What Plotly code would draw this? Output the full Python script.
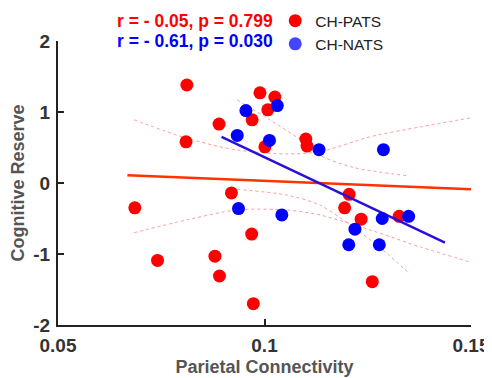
import plotly.graph_objects as go

# ---- data ----
pats_x = [0.0812, 0.0989, 0.1025, 0.1008, 0.0970, 0.0890, 0.0810, 0.1001, 0.1100, 0.1103,
          0.0686, 0.0920, 0.0741, 0.0880, 0.0891, 0.0969, 0.0973, 0.1205, 0.1194, 0.1234,
          0.1326, 0.1261]
pats_y = [1.38, 1.27, 1.21, 1.03, 0.89, 0.83, 0.58, 0.51, 0.62, 0.52,
          -0.35, -0.14, -1.09, -1.03, -1.31, -0.72, -1.70, -0.16, -0.35, -0.51,
          -0.47, -1.39]
nats_x = [0.0955, 0.1031, 0.0934, 0.1012, 0.1132, 0.1288, 0.0937, 0.1042, 0.1285, 0.1349,
          0.1219, 0.1204, 0.1278]
nats_y = [1.02, 1.09, 0.67, 0.60, 0.47, 0.47, -0.36, -0.45, -0.50, -0.47,
          -0.65, -0.87, -0.87]

# regression lines (end points)
pats_fit_x = [0.0668, 0.1502]
pats_fit_y = [0.11, -0.09]
nats_fit_x = [0.0896, 0.1437]
nats_fit_y = [0.65, -0.84]

# 95% confidence bands
pats_ci_x = [0.0684, 0.0812, 0.0933, 0.1054, 0.1134, 0.1255, 0.1377, 0.1502]
pats_ci_hi = [0.89, 0.63, 0.465, 0.41, 0.44, 0.65, 0.79, 0.92]
pats_ci_lo = [-0.70, -0.52, -0.38, -0.38, -0.45, -0.66, -0.90, -1.12]
nats_ci_x = [0.0934, 0.1013, 0.1094, 0.1134, 0.1215, 0.1348]
nats_ci_hi = [1.17, 0.89, 0.58, 0.39, 0.22, 0.10]
nats_ci_lo_x = [0.0934, 0.1054, 0.1134, 0.1215, 0.1296, 0.1348]
nats_ci_lo = [-0.09, -0.17, -0.31, -0.62, -0.99, -1.26]

stats_pats = "r = - 0.05, p = 0.799"
stats_nats = "r = - 0.61, p = 0.030"
group_names = ["CH-PATS", "CH-NATS"]
x_ticks = [0.05, 0.1, 0.15]
x_tick_text = ["0.05", "0.1", "0.15"]
y_ticks = [-2, -1, 0, 1, 2]

FONT = "Liberation Sans, Arial, sans-serif"
fig = go.Figure()

ci_style = dict(color="#ff9a9a", width=1, dash="dot", shape="spline", smoothing=0.8)
for cx, cy in [(pats_ci_x, pats_ci_hi), (pats_ci_x, pats_ci_lo),
               (nats_ci_x, nats_ci_hi), (nats_ci_lo_x, nats_ci_lo)]:
    fig.add_trace(go.Scatter(x=cx, y=cy, mode="lines", line=ci_style,
                             showlegend=False, hoverinfo="skip"))

fig.add_trace(go.Scatter(x=pats_x, y=pats_y, mode="markers", showlegend=False,
                         marker=dict(color="#ff0000", size=13, line=dict(width=0))))
fig.add_trace(go.Scatter(x=pats_fit_x, y=pats_fit_y, mode="lines", showlegend=False,
                         line=dict(color="#ff3300", width=2.5)))
fig.add_trace(go.Scatter(x=nats_fit_x, y=nats_fit_y, mode="lines", showlegend=False,
                         line=dict(color="#2a10d8", width=2.5)))
fig.add_trace(go.Scatter(x=nats_x, y=nats_y, mode="markers", showlegend=False,
                         marker=dict(color="#0000ff", size=13, line=dict(width=0))))

# legend entries
fig.add_trace(go.Scatter(x=[None], y=[None], mode="markers", name=group_names[0],
                         marker=dict(color="#ff0000", size=13)))
fig.add_trace(go.Scatter(x=[None], y=[None], mode="markers", name=group_names[1],
                         marker=dict(color="#4545ff", size=13)))

axis_common = dict(showline=True, linewidth=2, linecolor="#222222", ticks="inside",
                   ticklen=6, tickwidth=2, tickcolor="#222222", showgrid=False,
                   zeroline=False, mirror=False, automargin=False, ticklabelstandoff=2,
                   tickfont=dict(family=FONT, size=19, color="#333333", weight="bold"))

# page body adds an 8px offset, so the figure is sized to fill the 492x378 window
fig.update_layout(
    width=484, height=370,
    margin=dict(l=50, r=21, t=33, b=53, autoexpand=False),
    paper_bgcolor="white", plot_bgcolor="white",
    xaxis=dict(range=[0.05, 0.15], tickvals=x_ticks, ticktext=x_tick_text,
               title=dict(text="Parietal Connectivity", standoff=6,
                          font=dict(family=FONT, size=18, color="#555555", weight="bold")),
               **axis_common),
    yaxis=dict(range=[-2, 2], tickvals=y_ticks, ticktext=[str(v) for v in y_ticks],
               title=dict(text="Cognitive Reserve", standoff=7,
                          font=dict(family=FONT, size=18, color="#555555", weight="bold")),
               **axis_common),
    legend=dict(x=0.526, y=1.13, xanchor="left", yanchor="top",
                font=dict(family=FONT, size=15.5, color="#222222"),
                bgcolor="rgba(0,0,0,0)", itemwidth=30),
    annotations=[
        dict(text=stats_pats, xref="paper", yref="paper", x=0.525, y=1.07,
             xanchor="right", yanchor="middle", showarrow=False,
             font=dict(family=FONT, size=17.5, color="#ff0000", weight="bold")),
        dict(text=stats_nats, xref="paper", yref="paper", x=0.525, y=1.0,
             xanchor="right", yanchor="middle", showarrow=False,
             font=dict(family=FONT, size=17.5, color="#0000ff", weight="bold")),
    ],
)

fig.write_html("out.html", post_script="document.body.style.overflow='hidden';")
